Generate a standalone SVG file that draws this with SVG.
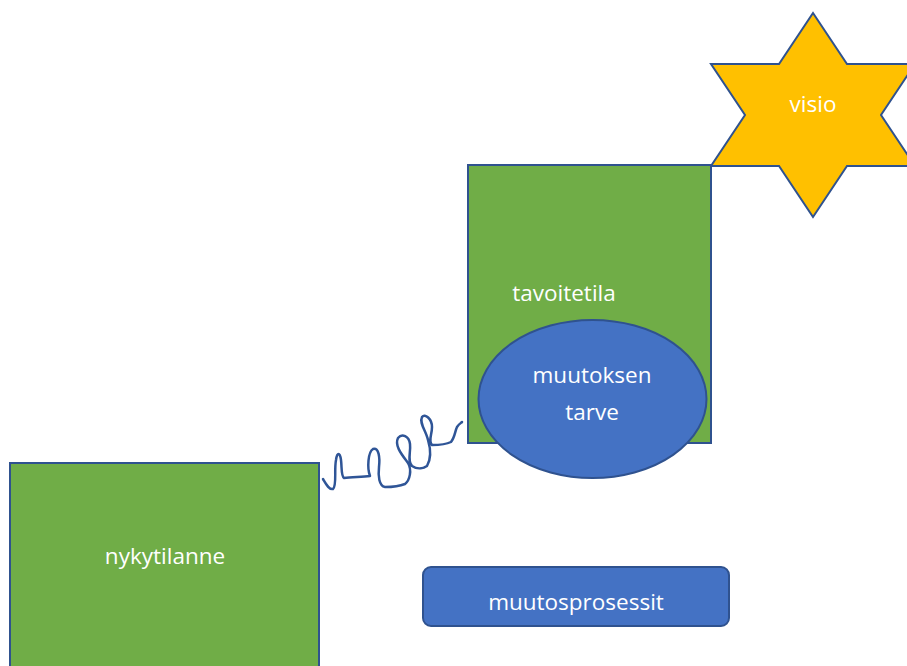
<svg xmlns="http://www.w3.org/2000/svg" width="907" height="666" viewBox="0 0 907 666">
<style>
.lbl{font-family:"Open Sans","Noto Sans","Liberation Sans",sans-serif;font-size:22.5px;fill:#ffffff;text-anchor:middle}
.sh{stroke:#2F528F;stroke-width:2}
</style>
<rect width="907" height="666" fill="#ffffff"/>
<g id="visio">
<polygon class="sh" fill="#FFC000" points="813,13 847,64 915,64 881,115 915,166 847,166 813,217 779,166 711,166 745,115 711,64 779,64"/>
<text class="lbl" x="813" y="112">visio</text>
</g>
<g id="tavoitetila">
<rect class="sh" fill="#70AD47" x="468" y="165" width="243" height="278"/>
<text class="lbl" x="564" y="301">tavoitetila</text>
</g>
<g id="muutoksen-tarve">
<ellipse class="sh" fill="#4472C4" cx="592.5" cy="399" rx="114" ry="79"/>
<text class="lbl" x="592" y="383">muutoksen</text>
<text class="lbl" x="592" y="420">tarve</text>
</g>
<g id="nykytilanne">
<rect class="sh" fill="#70AD47" x="10" y="463" width="309" height="215"/>
<text class="lbl" x="165" y="564">nykytilanne</text>
</g>
<g id="muutosprosessit">
<rect class="sh" fill="#4472C4" x="423" y="567" width="306" height="59" rx="8"/>
<text class="lbl" x="576" y="610">muutosprosessit</text>
</g>
<g id="connectors">
<path fill="none" stroke="#2F5597" stroke-width="2.5" stroke-linecap="round" stroke-linejoin="round" d="M323,479 C326,484 329,490 333,489 C337,486 334,470 336,460 C337,452 340,452 341,460 C342,468 341,476 344,478 C352,477 362,477 370,476 C367,468 368,452 373,449 C379,447 380,458 379,467 C378,476 379,486 385,487 C392,487 400,486 405,484 C410,480 412,470 408,463 C403,456 394,446 398,438 C402,433 409,436 410,444 C411,452 407,461 412,466 C418,470 424,468 427,466 C431,459 431,450 428,440 C426,431 419,423 422,417 C425,413 432,419 432,427 C432,435 428,441 432,445 C440,445 447,444 451,442 C455,437 455,431 457,427 C459,424 461,423 462,422"/>
</g>
</svg>
